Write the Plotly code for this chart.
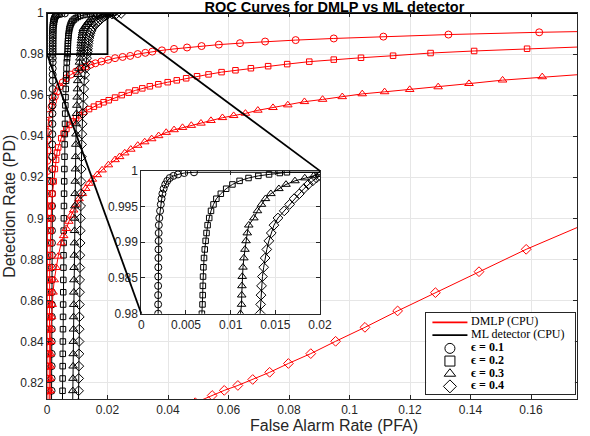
import plotly.graph_objects as go

# ROC data (PFA on x, PD on y)
eps_labels = ["ϵ = 0.1", "ϵ = 0.2", "ϵ = 0.3", "ϵ = 0.4"]
symbols = ["circle-open", "square-open", "triangle-up-open", "diamond-open"]
marker_sizes = [7, 5.5, 7.5, 7.5]

# ML detector: one PD grid, one PFA list per epsilon
ml_pd = [0.810, 0.816, 0.822, 0.828, 0.834, 0.840, 0.846, 0.852, 0.858, 0.864,
         0.870, 0.876, 0.882, 0.888, 0.894, 0.900, 0.906, 0.912, 0.918, 0.924,
         0.930, 0.936, 0.941, 0.946, 0.951, 0.955, 0.959, 0.963, 0.967, 0.970,
         0.973, 0.976, 0.978, 0.980, 0.9813, 0.9826, 0.9839, 0.9852, 0.9865, 0.9878,
         0.9890, 0.9902, 0.9913, 0.9924, 0.9934, 0.9944, 0.9953, 0.9961, 0.9968, 0.9975,
         0.9981, 0.9986, 0.9990, 0.9993, 0.9995, 0.9997, 0.9998, 1.0]
ml_pfa_01 = [0.00150, 0.00151, 0.00152, 0.00153, 0.00154, 0.00155, 0.00156, 0.00157, 0.00158, 0.00159,
             0.00160, 0.00161, 0.00162, 0.00163, 0.00164, 0.00165, 0.00166, 0.00167, 0.00168, 0.00170,
             0.00172, 0.00174, 0.00176, 0.00178, 0.00180, 0.00182, 0.00184, 0.00185, 0.00186, 0.00187,
             0.00188, 0.00188, 0.00188, 0.00188, 0.00188, 0.00188, 0.00188, 0.00189, 0.00190, 0.00191,
             0.00192, 0.00193, 0.00194, 0.00196, 0.00201, 0.00210, 0.00218, 0.00226, 0.00236, 0.00250,
             0.00268, 0.00290, 0.00318, 0.00360, 0.00410, 0.00480, 0.00590, 1.0]
ml_pfa_02 = [0.00510, 0.00513, 0.00516, 0.00519, 0.00522, 0.00525, 0.00528, 0.00531, 0.00534, 0.00537,
             0.00540, 0.00543, 0.00546, 0.00549, 0.00553, 0.00557, 0.00561, 0.00565, 0.00569, 0.00574,
             0.00579, 0.00584, 0.00589, 0.00595, 0.00601, 0.00607, 0.00613, 0.00620, 0.00628, 0.00636,
             0.00645, 0.00655, 0.00665, 0.00678, 0.00685, 0.00687, 0.00689, 0.00691, 0.00695, 0.00702,
             0.00710, 0.00720, 0.00730, 0.00742, 0.00760, 0.00780, 0.00808, 0.00840, 0.00890, 0.00950,
             0.01020, 0.01100, 0.01200, 0.01310, 0.01430, 0.01550, 0.01630, 1.0]
ml_pfa_03 = [0.00850, 0.00854, 0.00858, 0.00862, 0.00866, 0.00870, 0.00874, 0.00878, 0.00882, 0.00886,
             0.00890, 0.00895, 0.00900, 0.00905, 0.00910, 0.00915, 0.00920, 0.00926, 0.00932, 0.00938,
             0.00944, 0.00951, 0.00958, 0.00966, 0.00975, 0.00985, 0.00995, 0.01005, 0.01016, 0.01028,
             0.01050, 0.01072, 0.01090, 0.01110, 0.01122, 0.01124, 0.01126, 0.01130, 0.01138, 0.01148,
             0.01160, 0.01172, 0.01186, 0.01203, 0.01260, 0.01300, 0.01345, 0.01390, 0.01450, 0.01540,
             0.01620, 0.01720, 0.01830, 0.01930, 0.02000, 0.02080, 0.02150, 1.0]
ml_pfa_04 = [0.01040, 0.01044, 0.01048, 0.01052, 0.01056, 0.01060, 0.01064, 0.01068, 0.01072, 0.01076,
             0.01080, 0.01085, 0.01090, 0.01095, 0.01100, 0.01106, 0.01112, 0.01118, 0.01124, 0.01131,
             0.01138, 0.01146, 0.01154, 0.01163, 0.01173, 0.01185, 0.01200, 0.01215, 0.01230, 0.01250,
             0.01270, 0.01290, 0.01310, 0.01330, 0.01336, 0.01340, 0.01346, 0.01356, 0.01370, 0.01386,
             0.01405, 0.01428, 0.01455, 0.01485, 0.01530, 0.01600, 0.01660, 0.01710, 0.01770, 0.01820,
             0.01870, 0.01920, 0.01960, 0.02000, 0.02150, 0.02300, 0.02450, 1.0]

# DMLP
dmlp_pd_01 = [0.810, 0.816, 0.822, 0.828, 0.834, 0.840, 0.846, 0.852, 0.858, 0.864,
              0.870, 0.876, 0.882, 0.888, 0.894, 0.900, 0.906, 0.912, 0.918, 0.923,
              0.928, 0.933, 0.938, 0.942, 0.9463, 0.9505, 0.9544, 0.9570, 0.9593, 0.9618,
              0.9642, 0.9662, 0.9682, 0.9700, 0.9715, 0.9728, 0.9739, 0.9748, 0.9755, 0.9764,
              0.9772, 0.9780, 0.9786, 0.9791, 0.9800, 0.9806, 0.9812, 0.9818, 0.9825, 0.9832,
              0.9839, 0.9846, 0.9853, 0.9861, 0.9868, 0.9876, 0.9885, 0.9895, 0.9906, 0.9916]
dmlp_pfa_01 = [0.0, 0.0, 0.0, 0.0, 0.0, 0.0, 0.0, 0.0, 0.0, 0.0,
               0.0, 0.0001, 0.0001, 0.0001, 0.0001, 0.0001, 0.0001, 0.0001, 0.0001, 0.0001,
               0.0001, 0.0002, 0.0002, 0.0003, 0.0004, 0.0008, 0.0015, 0.0020, 0.0026, 0.0034,
               0.0042, 0.0052, 0.0064, 0.0079, 0.0096, 0.0112, 0.0128, 0.0144, 0.0160, 0.0180,
               0.0202, 0.0225, 0.0250, 0.0275, 0.0300, 0.0325, 0.0348, 0.0380, 0.0420, 0.0463,
               0.0511, 0.0568, 0.0638, 0.0721, 0.0822, 0.0948, 0.1112, 0.1327, 0.1627, 0.2000]
dmlp_pd_02 = [0.810, 0.816, 0.822, 0.828, 0.834, 0.840, 0.846, 0.852, 0.858, 0.864,
              0.870, 0.876, 0.882, 0.888, 0.894, 0.900, 0.906, 0.912, 0.918, 0.924,
              0.9285, 0.9320, 0.9345, 0.9390, 0.9413, 0.9435, 0.9455, 0.9472, 0.9488, 0.9502,
              0.9518, 0.9532, 0.9544, 0.9555, 0.9565, 0.9575, 0.9588, 0.9600, 0.9612, 0.9623,
              0.9633, 0.9643, 0.9653, 0.9663, 0.9672, 0.9682, 0.9692, 0.9701, 0.9712, 0.9721,
              0.9731, 0.9741, 0.9751, 0.9763, 0.9773, 0.9782, 0.9792, 0.9805, 0.9815, 0.9826,
              0.9848]
dmlp_pfa_02 = [0.0007, 0.0007, 0.0007, 0.0007, 0.0007, 0.0007, 0.0007, 0.0008, 0.0008, 0.0008,
               0.0009, 0.0009, 0.0010, 0.0011, 0.0012, 0.0013, 0.0015, 0.0018, 0.0022, 0.0026,
               0.0030, 0.0033, 0.0037, 0.0047, 0.0055, 0.0064, 0.0074, 0.0085, 0.0096, 0.0107,
               0.0122, 0.0139, 0.0155, 0.0171, 0.0187, 0.0204, 0.0225, 0.0247, 0.0270, 0.0292,
               0.0315, 0.0340, 0.0368, 0.0399, 0.0429, 0.0460, 0.0496, 0.0534, 0.0577, 0.0623,
               0.0674, 0.0731, 0.0794, 0.0867, 0.0948, 0.1038, 0.1144, 0.1268, 0.1412, 0.1587,
               0.2000]
dmlp_pd_03 = [0.810, 0.816, 0.822, 0.828, 0.834, 0.840, 0.846, 0.852, 0.858, 0.864,
              0.870, 0.876, 0.8815, 0.8880, 0.8915, 0.8950, 0.8985, 0.9015, 0.9040, 0.9068,
              0.9095, 0.9120, 0.9145, 0.9170, 0.9190, 0.9212, 0.9235, 0.9260, 0.9285, 0.9300,
              0.9318, 0.9336, 0.9355, 0.9372, 0.9387, 0.9402, 0.9418, 0.9431, 0.9442, 0.9452,
              0.9463, 0.9476, 0.9490, 0.9500, 0.9511, 0.9526, 0.9539, 0.9552, 0.9568, 0.9579,
              0.9592, 0.9606, 0.9616, 0.9627, 0.9640, 0.9656, 0.9673, 0.9689, 0.9715]
dmlp_pfa_03 = [0.0010, 0.0010, 0.0010, 0.0011, 0.0011, 0.0012, 0.0013, 0.0015, 0.0017, 0.0020,
               0.0024, 0.0030, 0.0037, 0.0047, 0.0055, 0.0064, 0.0072, 0.0080, 0.0088, 0.0096,
               0.0106, 0.0117, 0.0128, 0.0139, 0.0150, 0.0166, 0.0182, 0.0203, 0.0225, 0.0240,
               0.0257, 0.0277, 0.0300, 0.0323, 0.0346, 0.0369, 0.0394, 0.0420, 0.0448, 0.0477,
               0.0509, 0.0542, 0.0580, 0.0617, 0.0656, 0.0697, 0.0747, 0.0796, 0.0851, 0.0911,
               0.0976, 0.1042, 0.1116, 0.1199, 0.1293, 0.1395, 0.1506, 0.1637, 0.1900]
dmlp_pd_04 = [0.8102, 0.8137, 0.8162, 0.8186, 0.8215, 0.8250, 0.8293, 0.8341, 0.8401, 0.8469,
              0.8549, 0.8638, 0.8740, 0.8849, 0.9048]
dmlp_pfa_04 = [0.0490, 0.0546, 0.0586, 0.0631, 0.0680, 0.0736, 0.0798, 0.0872, 0.0954, 0.1051,
               0.1159, 0.1284, 0.1428, 0.1584, 0.1900]

ml_pfa = [ml_pfa_01, ml_pfa_02, ml_pfa_03, ml_pfa_04]
dmlp_pfa = [dmlp_pfa_01, dmlp_pfa_02, dmlp_pfa_03, dmlp_pfa_04]
dmlp_pd = [dmlp_pd_01, dmlp_pd_02, dmlp_pd_03, dmlp_pd_04]

# axes ranges / zoom box
x_range = [0, 0.1752]
y_range = [0.812, 1.0]
zoom_x = [0, 0.02]
zoom_y = [0.98, 1.0]
inset_xdom = [0.178, 0.515]
inset_ydom = [0.221, 0.591]
legend_xdom = [0.716, 0.996]
legend_ydom = [0.013, 0.223]

RED = "#ff0000"
INK = "#262626"
GRID = "#e6e6e6"
SANS = "Liberation Sans, Arial, sans-serif"
SERIF = "Liberation Serif, DejaVu Serif, serif"

fig = go.Figure()

for i in range(4):
    fig.add_trace(go.Scatter(
        x=dmlp_pfa[i], y=dmlp_pd[i], mode="lines+markers", showlegend=False,
        line=dict(color=RED, width=1),
        marker=dict(symbol=symbols[i], size=marker_sizes[i], color=RED, line=dict(width=1)),
        xaxis="x", yaxis="y"))
    fig.add_trace(go.Scatter(
        x=ml_pfa[i], y=ml_pd, mode="lines+markers", showlegend=False,
        line=dict(color="black", width=1),
        marker=dict(symbol=symbols[i], size=marker_sizes[i], color="black", line=dict(width=1)),
        xaxis="x", yaxis="y"))

# zoomed inset
for i in range(4):
    fig.add_trace(go.Scatter(
        x=ml_pfa[i], y=ml_pd, mode="lines+markers", showlegend=False,
        line=dict(color="black", width=1),
        marker=dict(symbol=symbols[i], size=marker_sizes[i], color="black", line=dict(width=1)),
        xaxis="x2", yaxis="y2"))

# legend drawn in its own small axes so the rows can be packed like the original
leg_rows = [5.65, 4.65, 3.6, 2.6, 1.6, 0.6]
leg_names = ["DMLP (CPU)", "ML detector (CPU)"] + eps_labels
fig.add_trace(go.Scatter(x=[0.04, 0.276], y=[leg_rows[0]] * 2, mode="lines",
                         line=dict(color=RED, width=1.8), showlegend=False,
                         hoverinfo="skip", xaxis="x3", yaxis="y3"))
fig.add_trace(go.Scatter(x=[0.04, 0.276], y=[leg_rows[1]] * 2, mode="lines",
                         line=dict(color="black", width=1.8), showlegend=False,
                         hoverinfo="skip", xaxis="x3", yaxis="y3"))
for i in range(4):
    fig.add_trace(go.Scatter(x=[0.158], y=[leg_rows[i + 2]], mode="markers",
                             marker=dict(symbol=symbols[i], size=10, color="black", line=dict(width=1)),
                             showlegend=False, hoverinfo="skip", xaxis="x3", yaxis="y3"))
fig.add_trace(go.Scatter(
    x=[0.30] * 6, y=leg_rows, mode="text",
    text=leg_names[:2] + ["<b>" + s + "</b>" for s in eps_labels],
    textposition="middle right", textfont=dict(family=SERIF, size=12, color="black"),
    showlegend=False, hoverinfo="skip", xaxis="x3", yaxis="y3"))

axis_common = dict(showline=True, linecolor=INK, linewidth=1, mirror="ticks",
                   ticks="inside", ticklen=4, tickcolor=INK, showgrid=True,
                   gridcolor=GRID, zeroline=False,
                   tickfont=dict(family=SANS, size=12, color=INK))

# inset corners in main-axis data coordinates
ix0 = x_range[0] + inset_xdom[0] * (x_range[1] - x_range[0])
ix1 = x_range[0] + inset_xdom[1] * (x_range[1] - x_range[0])
iy0 = y_range[0] + inset_ydom[0] * (y_range[1] - y_range[0])
iy1 = y_range[0] + inset_ydom[1] * (y_range[1] - y_range[0])

fig.update_layout(
    width=590, height=436,
    margin=dict(l=47, r=1, t=13, b=37),
    paper_bgcolor="white", plot_bgcolor="white",
    showlegend=False,
    title=dict(text="<b>ROC Curves for DMLP vs ML detector</b>", xref="paper", x=0.5424,
               xanchor="center", yref="container", y=0.985, yanchor="middle",
               font=dict(family=SANS, size=14.5, color="black")),
    xaxis=dict(range=x_range, dtick=0.02, tick0=0, domain=[0, 1], anchor="y", **axis_common),
    yaxis=dict(range=y_range, dtick=0.02, tick0=0.8, domain=[0, 1], anchor="x", **axis_common),
    xaxis2=dict(range=zoom_x, dtick=0.005, tick0=0, domain=inset_xdom, anchor="y2", **axis_common),
    yaxis2=dict(range=zoom_y, dtick=0.005, tick0=0.98, domain=inset_ydom, anchor="x2", **axis_common),
    xaxis3=dict(range=[0, 1], domain=legend_xdom, anchor="y3", showline=True, mirror=True,
                linecolor=INK, linewidth=1, showgrid=False, zeroline=False,
                showticklabels=False, ticks=""),
    yaxis3=dict(range=[0, 6.4], domain=legend_ydom, anchor="x3", showline=True, mirror=True,
                linecolor=INK, linewidth=1, showgrid=False, zeroline=False,
                showticklabels=False, ticks=""),
    annotations=[
        dict(text="False Alarm Rate (PFA)", xref="paper", yref="paper", x=0.5424, y=-0.068,
             xanchor="center", yanchor="middle", showarrow=False,
             font=dict(family=SANS, size=16, color=INK)),
        dict(text="Detection Rate (PD)", xref="paper", yref="paper", x=-0.072, y=0.5,
             xanchor="center", yanchor="middle", textangle=-90, showarrow=False,
             font=dict(family=SANS, size=16, color=INK)),
    ],
    shapes=[
        dict(type="rect", xref="x", yref="y", x0=zoom_x[0], x1=zoom_x[1], y0=zoom_y[0], y1=zoom_y[1],
             line=dict(color="black", width=1.8), layer="above"),
        dict(type="line", xref="x", yref="y", x0=zoom_x[0], y0=zoom_y[0], x1=ix0, y1=iy0,
             line=dict(color="black", width=1.8), layer="above"),
        dict(type="line", xref="x", yref="y", x0=zoom_x[1], y0=zoom_y[1], x1=ix1, y1=iy1,
             line=dict(color="black", width=1.8), layer="above"),
    ],
)

# drop the browser's default page margin so the 590x436 figure fills the window
fig.write_html("out.html", config={"displayModeBar": False},
               post_script="document.body.style.margin='0';document.body.style.padding='0';")
